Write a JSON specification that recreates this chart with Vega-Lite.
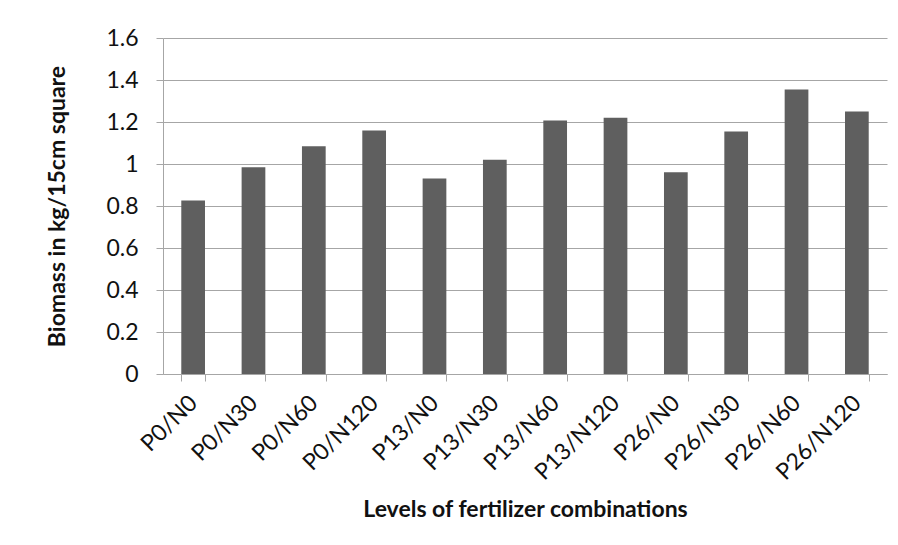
{
  "$schema": "https://vega.github.io/schema/vega-lite/v6.json",
  "width": 724,
  "height": 336,
  "autosize": "none",
  "padding": {"left": 163, "top": 38, "right": 11, "bottom": 171},
  "background": "white",
  "config": {
    "view": {"stroke": null},
    "font": "Lato"
  },
  "data": {
    "values": [
      {"combo": "P0/N0", "biomass": 0.826},
      {"combo": "P0/N30", "biomass": 0.985},
      {"combo": "P0/N60", "biomass": 1.085},
      {"combo": "P0/N120", "biomass": 1.16},
      {"combo": "P13/N0", "biomass": 0.931},
      {"combo": "P13/N30", "biomass": 1.02},
      {"combo": "P13/N60", "biomass": 1.207},
      {"combo": "P13/N120", "biomass": 1.22},
      {"combo": "P26/N0", "biomass": 0.961},
      {"combo": "P26/N30", "biomass": 1.155},
      {"combo": "P26/N60", "biomass": 1.355},
      {"combo": "P26/N120", "biomass": 1.25}
    ]
  },
  "mark": {"type": "bar", "color": "#5f5f5f"},
  "encoding": {
    "x": {
      "field": "combo",
      "type": "nominal",
      "sort": null,
      "scale": {"paddingInner": 0.607, "paddingOuter": 0.303},
      "axis": {
        "title": "Levels of fertilizer combinations",
        "titleFont": "Lato",
        "titleFontSize": 23,
        "titleFontWeight": "bold",
        "titleColor": "#111111",
        "titlePadding": 14,
        "labelAngle": -45,
        "labelAlign": "right",
        "labelBaseline": "middle",
        "labelFont": "Lato",
        "labelFontSize": 23,
        "labelColor": "#111111",
        "labelPadding": 18,
        "tickBand": "extent",
        "tickSize": 7,
        "tickColor": "#a6a6a6",
        "domainColor": "#a6a6a6",
        "grid": false
      }
    },
    "y": {
      "field": "biomass",
      "type": "quantitative",
      "scale": {"domain": [0, 1.6], "nice": false},
      "axis": {
        "title": "Biomass in kg/15cm square",
        "titleFont": "Lato",
        "titleFontSize": 23,
        "titleFontWeight": "bold",
        "titleColor": "#111111",
        "titlePadding": 36,
        "values": [0, 0.2, 0.4, 0.6, 0.8, 1, 1.2, 1.4, 1.6],
        "format": "~g",
        "labelFont": "Lato",
        "labelFontSize": 23,
        "labelColor": "#111111",
        "labelPadding": 18,
        "tickSize": 7,
        "tickColor": "#a6a6a6",
        "domainColor": "#a6a6a6",
        "grid": true,
        "gridColor": "#a6a6a6",
        "gridWidth": 1
      }
    }
  }
}
